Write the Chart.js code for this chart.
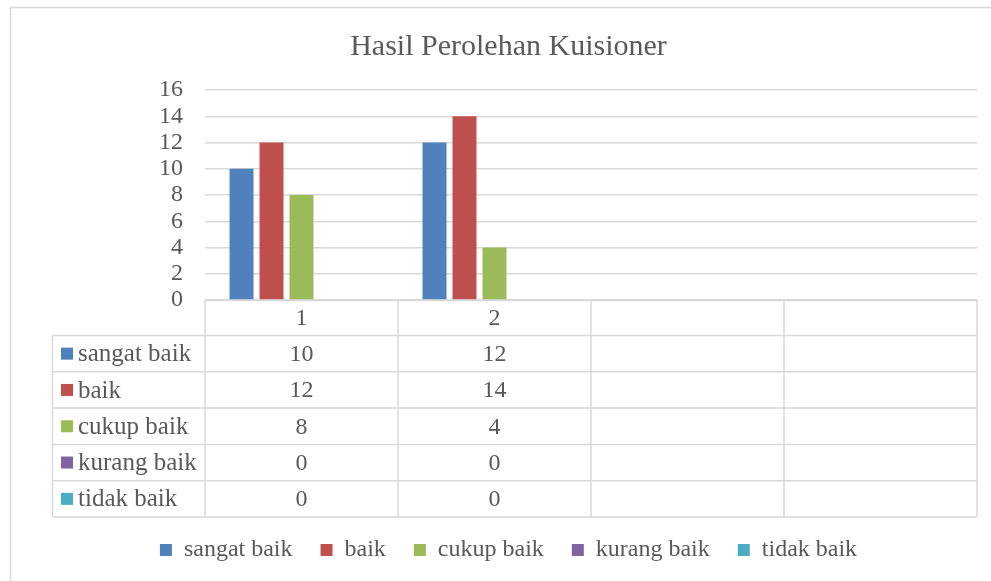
<!DOCTYPE html>
<html>
<head>
<meta charset="utf-8">
<title>Hasil Perolehan Kuisioner</title>
<script src="https://cdn.jsdelivr.net/npm/chart.js@4/dist/chart.umd.min.js"></script>
<style>
	html, body { margin: 0; padding: 0; background: #fff; }
</style>
</head>
<body>
<canvas id="myChart" width="991" height="581"></canvas>
<script>
	// data
	const categories = ['1', '2', '', '']
	const seriesNames = ['sangat baik', 'baik', 'cukup baik', 'kurang baik', 'tidak baik']
	const sangatBaik = [10, 12, null, null]
	const baik = [12, 14, null, null]
	const cukupBaik = [8, 4, null, null]
	const kurangBaik = [0, 0, null, null]
	const tidakBaik = [0, 0, null, null]
	const yMin = 0
	const yMax = 16
	const yStep = 2

	const seriesValues = [sangatBaik, baik, cukupBaik, kurangBaik, tidakBaik]
	const colors = ['#4F81BD', '#C0504D', '#9BBB59', '#8064A2', '#4BACC6']
	const serif = '"Liberation Serif", "Times New Roman", serif'
	const textColor = '#595959'
	const lineColor = '#d9d9d9'

	// data table under the plot + outer frame, like excel does
	const dataTable = {
		id: 'dataTable',
		afterDraw(chart) {
			const { ctx, chartArea, scales } = chart
			const x = scales.x
			const half = (chartArea.right - chartArea.left) / categories.length / 2
			const top = chartArea.bottom
			const headH = 35.5
			const rowH = 36.3
			const bottom = top + headH + rowH * seriesNames.length
			const leftCol = 52.5

			ctx.save()
			ctx.strokeStyle = lineColor
			ctx.lineWidth = 1.5

			// outer frame
			ctx.beginPath()
			ctx.moveTo(10.5, chart.height + 2)
			ctx.lineTo(10.5, 7.5)
			ctx.lineTo(chart.width + 2, 7.5)
			ctx.stroke()

			ctx.beginPath()
			ctx.moveTo(chartArea.left, top + 0.5)
			ctx.lineTo(chartArea.right, top + 0.5)
			for (let r = 0; r <= seriesNames.length; r++) {
				const y = top + headH + rowH * r
				ctx.moveTo(leftCol, y)
				ctx.lineTo(chartArea.right, y)
			}
			ctx.moveTo(leftCol, top + headH)
			ctx.lineTo(leftCol, bottom)
			categories.forEach((c, i) => {
				const cx = x.getPixelForValue(i)
				ctx.moveTo(cx - half, top)
				ctx.lineTo(cx - half, bottom)
			})
			ctx.moveTo(chartArea.right, top)
			ctx.lineTo(chartArea.right, bottom)
			ctx.stroke()

			ctx.font = '24px ' + serif
			ctx.fillStyle = textColor
			ctx.textBaseline = 'middle'
			ctx.textAlign = 'center'
			categories.forEach((c, i) => {
				ctx.fillText(c, x.getPixelForValue(i), top + headH / 2 + 1)
			})
			seriesNames.forEach((name, r) => {
				const cy = top + headH + rowH * r + rowH / 2
				ctx.fillStyle = colors[r]
				ctx.fillRect(61, cy - 6, 12, 12)
				ctx.fillStyle = textColor
				ctx.textAlign = 'left'
				ctx.font = '25px ' + serif
				ctx.fillText(name, 78, cy + 1)
				ctx.font = '24px ' + serif
				ctx.textAlign = 'center'
				seriesValues[r].forEach((v, i) => {
					if (v !== null) ctx.fillText(String(v), x.getPixelForValue(i), cy + 1)
				})
			})
			ctx.restore()
		}
	}

	const config = {
		type: 'bar',
		data: {
			labels: categories,
			datasets: seriesNames.map((name, i) => ({
				label: name,
				data: seriesValues[i],
				backgroundColor: colors[i],
				borderWidth: 0,
				categoryPercentage: 0.777,
				barPercentage: 0.8
			}))
		},
		options: {
			responsive: false,
			animation: false,
			layout: {
				padding: { left: 40, right: 14, top: 0, bottom: 9 }
			},
			scales: {
				x: {
					ticks: { display: false },
					grid: { display: false },
					border: { display: false },
					afterFit: (s) => { s.height = 210 }
				},
				y: {
					min: yMin,
					max: yMax,
					ticks: {
						stepSize: yStep,
						autoSkip: false,
						padding: 22,
						color: textColor,
						font: { family: serif, size: 24 }
					},
					grid: { color: lineColor, lineWidth: 1.5, drawTicks: false },
					border: { display: false },
					afterFit: (s) => { s.width = 165 }
				}
			},
			plugins: {
				title: {
					display: true,
					text: 'Hasil Perolehan Kuisioner',
					color: textColor,
					font: { family: serif, size: 30, weight: 'normal' },
					padding: { top: 29, bottom: 25 }
				},
				legend: {
					position: 'bottom',
					labels: {
						boxWidth: 12,
						boxHeight: 12,
						padding: 28,
						color: textColor,
						font: { family: serif, size: 24 }
					}
				},
				tooltip: { enabled: false }
			}
		},
		plugins: [dataTable]
	}

	const myChart = new Chart(document.getElementById('myChart'), config)
</script>
</body>
</html>
